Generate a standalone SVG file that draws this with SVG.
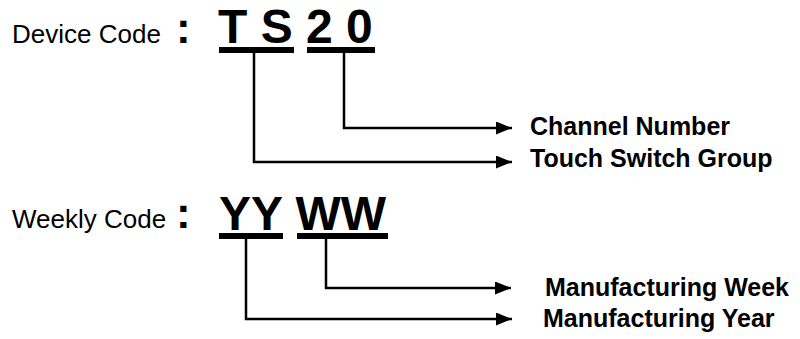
<svg xmlns="http://www.w3.org/2000/svg" width="800" height="339" viewBox="0 0 800 339">
<defs>
<style>
.lbl{font-family:"Liberation Sans",Arial,sans-serif;font-size:26px;fill:#000}
.big{font-family:"Liberation Sans",Arial,sans-serif;font-size:48px;font-weight:bold;fill:#000}
.colon{font-family:"Liberation Sans",Arial,sans-serif;font-size:44px;font-weight:bold;fill:#000}
.out{font-family:"Liberation Sans",Arial,sans-serif;font-size:25px;font-weight:bold;fill:#000}
.ln{fill:none;stroke:#000;stroke-width:2.5}
.ul{fill:#000}
</style>
<marker id="ah" viewBox="0 0 16 13" refX="16" refY="6.5" markerWidth="16" markerHeight="13" markerUnits="userSpaceOnUse" orient="auto">
<path d="M0,0 L16,6.5 L0,13 Z" fill="#000"/>
</marker>
</defs>
<g id="device-code">
<text class="lbl" x="12" y="43">Device Code</text>
<text class="colon" x="176" y="43">:</text>
<text class="big" x="218" y="43">T S 2 0</text>
<rect class="ul" x="219" y="47" width="75" height="6"/>
<rect class="ul" x="307" y="47" width="68" height="6"/>
</g>
<g id="weekly-code">
<text class="lbl" x="12" y="228">Weekly Code</text>
<text class="colon" x="176" y="228">:</text>
<text class="big" x="219" y="230">YY WW</text>
<rect class="ul" x="219" y="233" width="64" height="6"/>
<rect class="ul" x="297" y="233" width="91" height="6"/>
</g>
<g id="labels">
<text class="out" x="530" y="135">Channel Number</text>
<text class="out" x="530" y="167">Touch Switch Group</text>
<text class="out" x="545" y="296">Manufacturing Week</text>
<text class="out" x="543" y="327">Manufacturing Year</text>
</g>
<g id="connectors">
<path class="ln" d="M344,53 V128 H512" marker-end="url(#ah)"/>
<path class="ln" d="M254,53 V162 H512" marker-end="url(#ah)"/>
<path class="ln" d="M326,239 V288 H511" marker-end="url(#ah)"/>
<path class="ln" d="M246,239 V319 H512" marker-end="url(#ah)"/>
</g>
</svg>
